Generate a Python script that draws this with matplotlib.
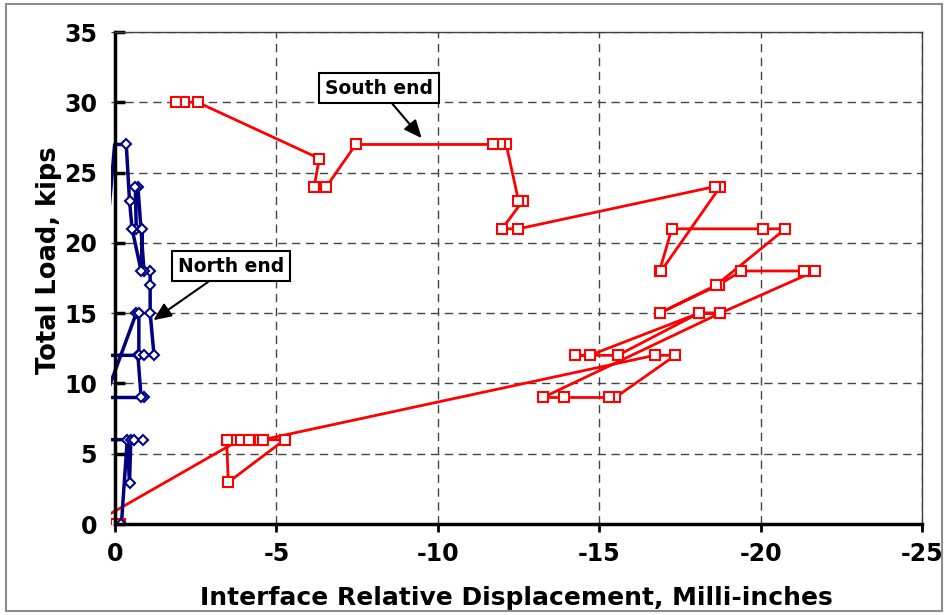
import matplotlib
matplotlib.use("Agg")
import matplotlib.pyplot as plt
from matplotlib.patches import Rectangle

# South end readings: displacement (milli-inches) and total load (kips), in test order
south_disp = [-0.04, -0.17, 0.7,
              -3.87, -3.58, -3.46, -3.51, -5.26, -4.15, -4.49, -4.59,
              -16.72, -17.36, -15.5, -15.3, -13.9, -13.26,
              -18.75, -18.09, -14.71, -14.24, -15.58, -18.09, -18.75,
              -21.7, -21.36, -19.4, -18.7, -16.87, -18.63,
              -20.77, -20.07, -17.25, -16.87, -16.92,
              -18.75, -18.58, -12.5, -11.99, -12.64, -12.5,
              -12.12, -11.92, -11.71, -7.46, -6.55, -6.17, -6.33,
              -2.56, -2.15, -1.89]
south_load = [0, 0, 0,
              6, 6, 6, 2.97, 6, 6, 6, 6,
              12, 12, 9, 9, 9, 9,
              15, 15, 12, 12, 12, 15, 15,
              18, 18, 18, 17, 15, 17,
              21, 21, 21, 18, 18,
              24, 24, 21, 21, 23, 23,
              27, 27, 27, 27, 24, 24, 26,
              30, 30, 30]

# North end readings
north_disp = [-0.2, -0.38, -0.45, -0.49, -0.59, -0.87, 0.5, 0.5, -0.9, -0.81,
              -0.71, 0.5, 0.3, -0.66, -0.74, -0.74, -0.9, -1.21, -1.09, -1.09,
              -1.09, -0.9, -0.71, -0.63, -0.66, -0.85, -0.81, -0.53, -0.45, -0.35,
              0.01, 0.46]
north_load = [0, 6, 2.9, 6, 6, 6, 6, 9, 9, 9,
              12, 12, 9, 15, 15, 12, 12, 12, 15, 17,
              18, 18, 24, 24, 21, 21, 18, 21, 23, 27,
              27, 15]

x_ticks = [0, -5, -10, -15, -20, -25]
y_ticks = [0, 5, 10, 15, 20, 25, 30, 35]

fig = plt.figure(figsize=(9.48, 6.15), dpi=100)
ax = fig.add_axes([111.1 / 948, 1 - 524 / 615, (922 - 111.1) / 948, (524 - 32) / 615])

# thin grey frame round the whole figure
fig.patches.append(Rectangle((0.006, 0.006), 0.988, 0.988, transform=fig.transFigure,
                             fill=False, edgecolor='#8c8c8c', linewidth=1.5))

# axis lines: thick black at x=0 and y=0, thin box elsewhere
# (moving the spine resets the ticks, so do it before styling them)
ax.spines['left'].set_position(('data', 0))
ax.spines['left'].set_linewidth(2.5)
ax.spines['bottom'].set_linewidth(2.5)
ax.spines['top'].set_color('#404040')
ax.spines['right'].set_color('#404040')
ax.spines['top'].set_linewidth(1)
ax.spines['right'].set_linewidth(1)
for s in ax.spines.values():
    s.set_zorder(5)

# lines first, markers only for points that fall inside the plot
ax.plot(south_disp, south_load, color='#ff0000', linewidth=2, zorder=3)
sx = [x for x in south_disp if x <= 0]
sy = [y for x, y in zip(south_disp, south_load) if x <= 0]
ax.plot(sx, sy, linestyle='none', marker='s', markersize=7, markerfacecolor='white',
        markeredgecolor='#ff0000', markeredgewidth=1.5, zorder=4)

ax.plot(north_disp, north_load, color='#000080', linewidth=2.5, zorder=3)
nx = [x for x in north_disp if x < 0]
ny = [y for x, y in zip(north_disp, north_load) if x < 0]
ax.plot(nx, ny, linestyle='none', marker='D', markersize=5.5, markerfacecolor='white',
        markeredgecolor='#000080', markeredgewidth=1.5, zorder=4)

ax.set_xlim(0.12, -25)
ax.set_ylim(0, 35)
ax.spines['bottom'].set_bounds(0, -25)
ax.spines['top'].set_bounds(0, -25)
ax.set_xticks(x_ticks)
ax.set_yticks(y_ticks)
ax.set_xticklabels([str(v) for v in x_ticks], fontsize=17, fontweight='bold')
ax.set_yticklabels([str(v) for v in y_ticks], fontsize=17, fontweight='bold')

# dashed grid
ax.grid(True, linestyle=(0, (6, 4)), color='#444444', linewidth=1)
ax.set_axisbelow(True)

ax.tick_params(axis='y', direction='in', length=7, width=2.5, pad=13)
ax.tick_params(axis='x', direction='out', length=6, width=2, pad=7)

ax.set_xlabel('Interface Relative Displacement, Milli-inches', fontsize=18, fontweight='bold')
ax.set_ylabel('Total Load, kips', fontsize=18.5, fontweight='bold')
ax.xaxis.set_label_coords(0.5, -0.125)
ax.yaxis.set_label_coords(-0.061, 0.537)

# callouts for the two ends
box = dict(boxstyle='square,pad=0.3', facecolor='white', edgecolor='black', linewidth=1.5)
arrow = dict(arrowstyle='-|>,head_length=0.8,head_width=0.35', color='black', linewidth=1.5,
             shrinkA=0, shrinkB=0)
ax.annotate('South end', xy=(-9.5, 27.45), xytext=(-8.18, 31.0), fontsize=13.5,
            fontweight='bold', ha='center', va='center', bbox=box, arrowprops=arrow, zorder=6)
ax.annotate('North end', xy=(-1.19, 14.5), xytext=(-3.59, 18.35), fontsize=13.5,
            fontweight='bold', ha='center', va='center', bbox=box, arrowprops=arrow, zorder=6)

plt.savefig('out.png', dpi=100)
